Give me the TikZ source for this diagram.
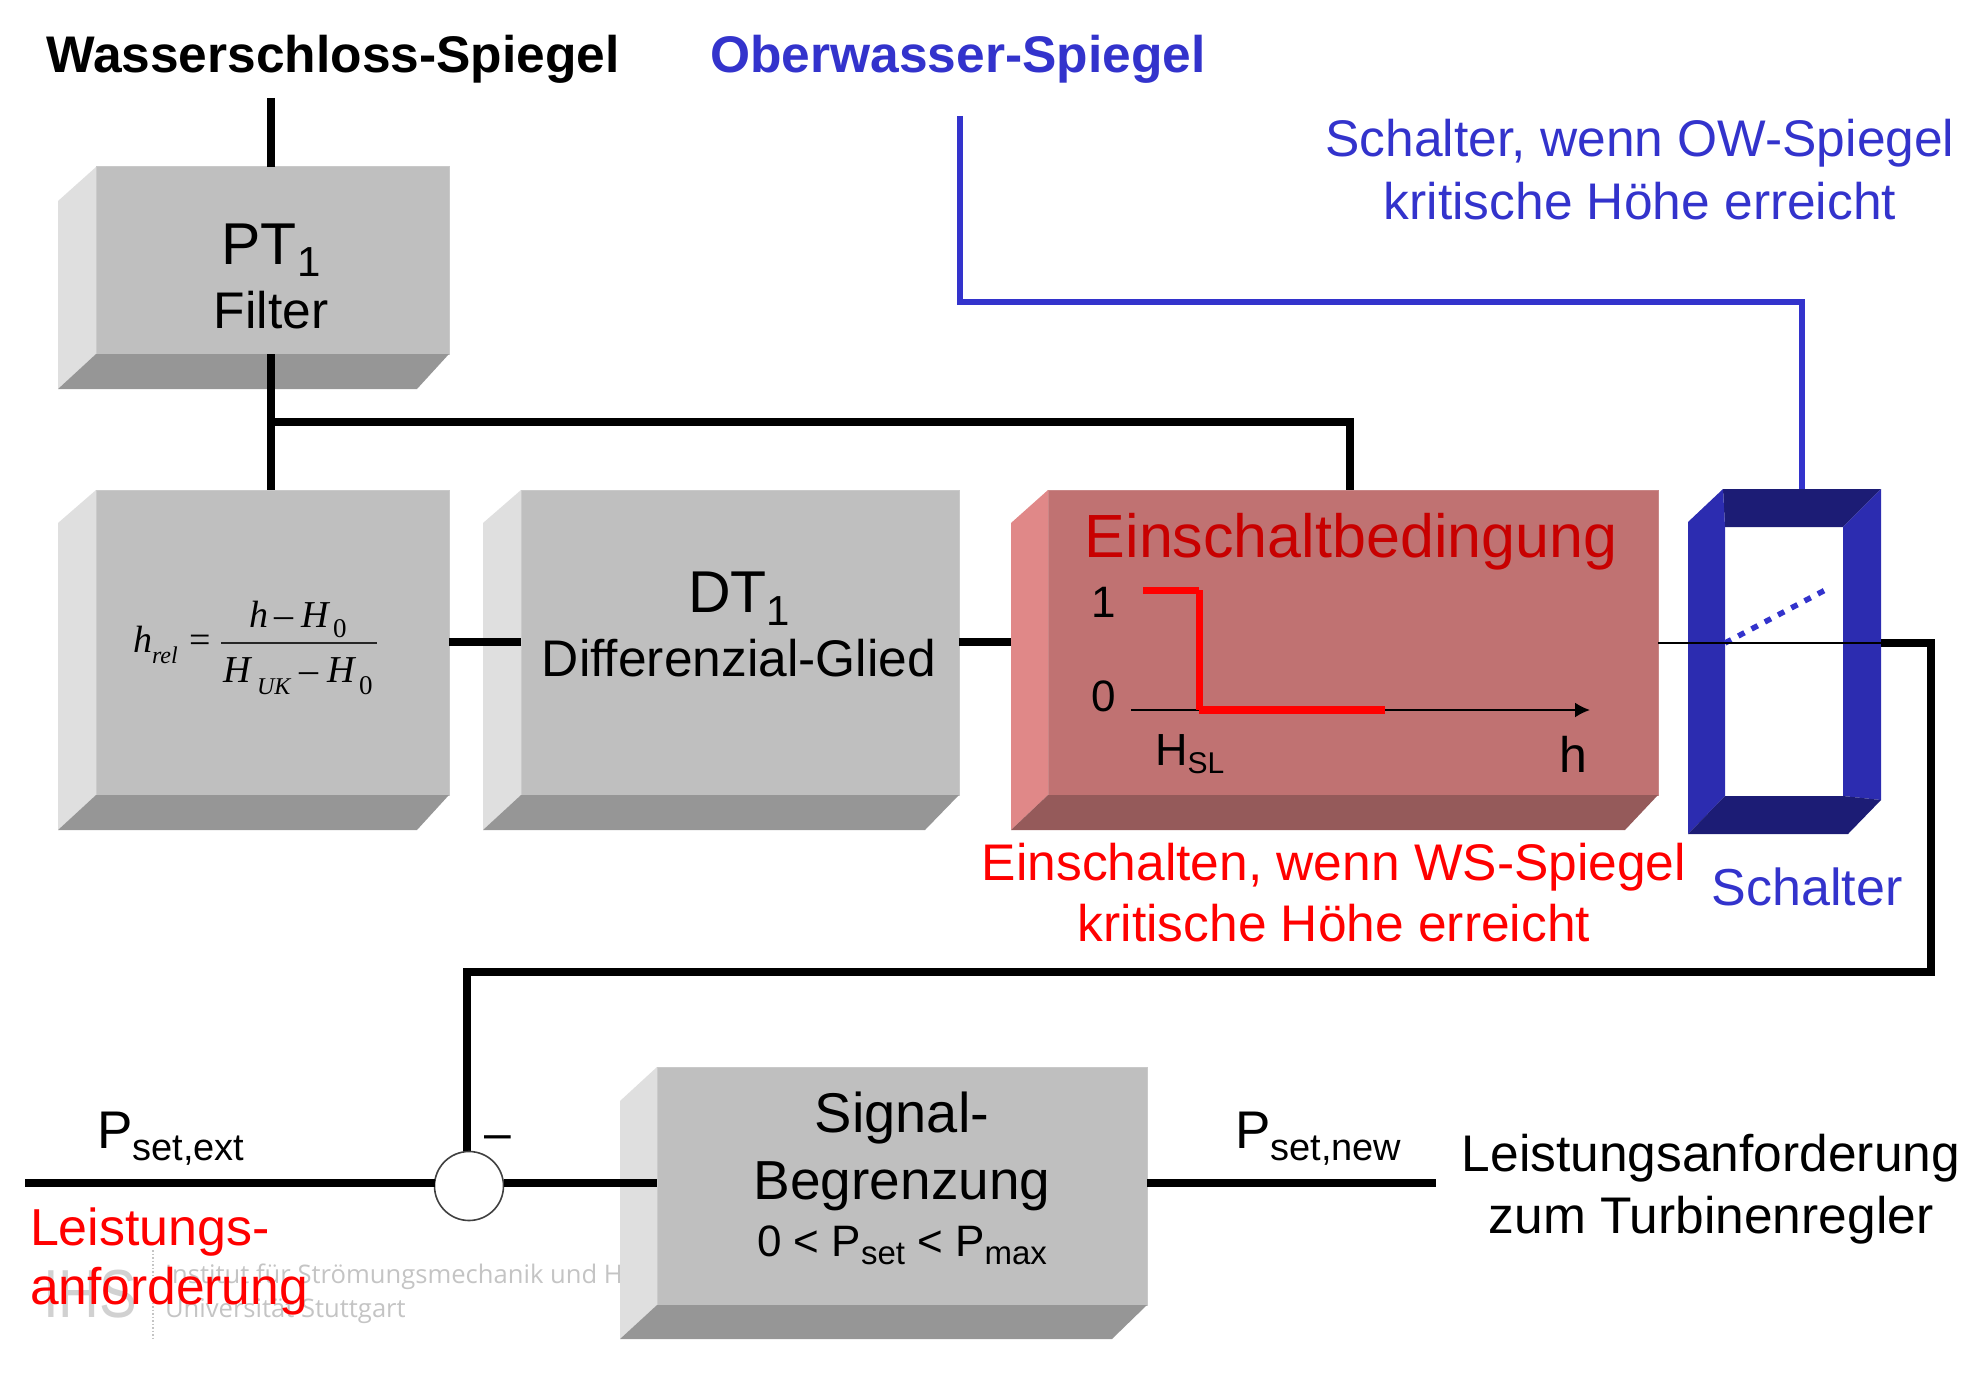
\documentclass[tikz,border=0pt]{standalone}
\usepackage{fontspec}
\setmainfont{Liberation Sans}
\newfontfamily\wmfont{Open Sans}
\newfontfamily\frmfont{Liberation Serif}
\usetikzlibrary{arrows.meta,calc}
\definecolor{boxfront}{HTML}{BFBFBF}
\definecolor{boxleft}{HTML}{DFDFDF}
\definecolor{boxbottom}{HTML}{969696}
\definecolor{einfront}{HTML}{C07272}
\definecolor{einleft}{HTML}{E08888}
\definecolor{einbottom}{HTML}{955A5A}
\definecolor{swlight}{HTML}{2C2CB0}
\definecolor{swdark}{HTML}{1C1C75}
\definecolor{owblue}{HTML}{3333CC}
\definecolor{darkred}{HTML}{C80000}
\definecolor{wmgrey}{HTML}{C4C4C4}
\newcommand{\fsz}[1]{\fontsize{#1}{#1}\selectfont}
\newcommand{\subs}[3]{\raisebox{-#3pt}{\fsz{#2}#1}}
\newcommand{\frontface}[6]{\node[facebox,fill=#6,draw=#6!85!white,minimum width=#3pt-#2pt,minimum height=#5pt-#4pt] (#1) at ({(#2+#3)/2},{(#4+#5)/2}) {};}
\newcommand{\sideface}[7]{\fill[#7] (#1,#4) -- (#2,#3) -- (#2,#5) -- (#1,#6) -- cycle;}
\tikzset{
  facebox/.style={rectangle,line width=1pt,inner sep=0pt,outer sep=0pt},
  txt/.style={inner sep=0pt,outer sep=0pt,anchor=base,align=center},
  txtl/.style={inner sep=0pt,outer sep=0pt,anchor=base west},
  wire/.style={draw=black,line width=8pt,line cap=butt,line join=miter},
  bluewire/.style={draw=owblue,line width=6.5pt,line join=miter},
  frm/.style={inner sep=0pt,outer sep=0pt,anchor=base west,font=\frmfont\fsz{38}\itshape},
  frmsub/.style={inner sep=0pt,outer sep=0pt,anchor=base west,font=\frmfont\fsz{24}\itshape},
  wm/.style={inner sep=0pt,outer sep=0pt,anchor=base west,text=wmgrey,font=\wmfont\fsz{25.6}},
}
\begin{document}
\begin{tikzpicture}[x=1pt,y=-1pt]
\useasboundingbox (0,0) rectangle (1970,1375);
% watermark
\node[wm] (wm1) at (165,1283) {Institut für Strömungsmechanik und Hy};
\node[wm] (wm2) at (165,1317) {Universität Stuttgart};
\node[txtl,text=black!18,font=\fsz{68}] (wm3) at (43,1317) {\scalebox{0.83}[1]{IHS}};
\draw[wmgrey,line width=1.5pt,dotted] (153,1250) -- (153,1338);
% PT1
\frontface{pt}{96}{449}{167}{354}{boxfront}
\sideface{58}{96}{167}{201}{354}{389}{boxleft}
\fill[boxbottom] (58,389) -- (96,354) -- (449,354) -- (417,389) -- cycle;
% hrel
\frontface{hrel}{96}{449}{490}{795}{boxfront}
\sideface{58}{96}{490}{523}{795}{830}{boxleft}
\fill[boxbottom] (58,830) -- (96,795) -- (449,795) -- (417,830) -- cycle;
% DT1
\frontface{dt}{521}{959}{490}{795}{boxfront}
\sideface{483}{521}{490}{523}{795}{830}{boxleft}
\fill[boxbottom] (483,830) -- (521,795) -- (959,795) -- (925,830) -- cycle;
% Signal
\frontface{sig}{657}{1147}{1067}{1305}{boxfront}
\sideface{620}{657}{1067}{1101}{1305}{1339}{boxleft}
\fill[boxbottom] (620,1339) -- (657,1305) -- (1147,1305) -- (1112,1339) -- cycle;
% Einschalt front
\frontface{ein}{1048}{1658}{490}{795}{einfront}
% Connectors
\coordinate (wstop) at (271,98);
\coordinate (branch) at (271,422);
\coordinate (einin) at (1350,490);
\coordinate (midline) at (0,642);
\draw[wire] (wstop) -- (pt.north -| wstop);
\draw[wire] (pt.south -| wstop) -- (hrel.north -| wstop);
\draw[wire] (branch) -| (einin);
\draw[wire] (hrel.east |- midline) -- (dt.west |- midline);
\draw[wire] (dt.east |- midline) -- (ein.west |- midline);
% Einschalt bevel on top of connector
\sideface{1011}{1048}{490}{523}{795}{830}{einleft}
\fill[einbottom] (1011,830) -- (1048,795) -- (1658,795) -- (1625,830) -- cycle;
% Switch frame
\fill[swdark] (1723,489) -- (1881,489) -- (1843,527) -- (1725,527) -- cycle;
\fill[swlight] (1688,522) -- (1723,489) -- (1725,527) -- (1725,796) -- (1688,834) -- cycle;
\fill[swlight] (1881,489) -- (1881,800) -- (1843,796) -- (1843,527) -- cycle;
\fill[swdark] (1725,796) -- (1843,796) -- (1881,800) -- (1848,834) -- (1688,834) -- cycle;
\coordinate (swin) at (1725,643);
\coordinate (swtip) at (1829,588);
\coordinate (swout) at (1881,643);
\coordinate (swtop) at (1802,489);
\draw[owblue,line width=5.5pt,dash pattern=on 7pt off 8pt] (swin) -- (swtip);
\draw[black,line width=1.6pt] (ein.east |- swout) -- (swout);
\coordinate (rr) at (1931,972);
\coordinate (ll) at (467,972);
\coordinate (sumtop) at (467,1153);
\draw[wire] (swout) -| (rr) -- (ll) -- (sumtop);
% Blue
\coordinate (owtop) at (960,116);
\coordinate (blc) at (1802,302);
\draw[bluewire] (owtop) |- (blc) -- (swtop);
% Sum junction
\coordinate (pext) at (25,1183);
\coordinate (pnew) at (1436,1183);
\node[circle,draw=black!75,line width=1.6pt,fill=white,minimum size=69pt,inner sep=0pt,outer sep=0pt] (sum) at (469,1186) {};
\draw[wire] (pext) -- (sum.west |- pext);
\draw[wire] (sum.east |- pext) -- (sig.west |- pext);
\draw[wire] (sig.east |- pext) -- (pnew);
% Graph
\coordinate (axs) at (1131,710);
\coordinate (axe) at (1590,710);
\coordinate (ra) at (1143,590);
\coordinate (rb) at (1199,590);
\coordinate (rc) at (1199,710);
\coordinate (rd) at (1385,710);
\draw[black,line width=2pt,-{Latex[length=15pt,width=15pt]}] (axs) -- (axe);
\draw[red,line width=7pt] (ra) -- (rb);
\draw[red,line width=7pt] (rb) -- (rc);
\draw[red,line width=8pt] (rc) -- (rd);
% Text
\node[txt,font=\bfseries\fsz{51.5}] (t1) at (333,73) {Wasserschloss-Spiegel};
\node[txt,font=\bfseries\fsz{51.5},text=owblue] (t2) at (958,73) {Oberwasser-Spiegel};
\node[txt,font=\fsz{51.5},text=owblue] (t3) at (1640,157) {Schalter, wenn OW-Spiegel};
\node[txt,font=\fsz{51.5},text=owblue] (t4) at (1640,219) {kritische Höhe erreicht};
\node[txt,font=\fsz{59}] (pt1) at (271,264) {PT\subs{1}{42}{13}};
\node[txt,font=\fsz{51.5}] (pt2) at (271,328) {Filter};
\node[txt,font=\fsz{59}] (dt1) at (739,612) {DT\subs{1}{42}{13}};
\node[txt,font=\fsz{51.5}] (dt2) at (739,676) {Differenzial-Glied};
\node[txt,font=\fsz{61},text=darkred] (e1) at (1351,557) {Einschaltbedingung};
\node[txt,font=\fsz{44}] (g1) at (1104,617) {1};
\node[txt,font=\fsz{44}] (g0) at (1104,711) {0};
\node[txtl,font=\fsz{45}] (ghsl) at (1155,765) {H\subs{SL}{30}{8}};
\node[txt,font=\fsz{50}] (gh) at (1573,772) {h};
\node[txt,font=\fsz{51.5},text=red] (e2) at (1334,880) {Einschalten, wenn WS-Spiegel};
\node[txt,font=\fsz{51.5},text=red] (e3) at (1334,941) {kritische Höhe erreicht};
\node[txt,font=\fsz{52},text=owblue] (s1) at (1807,905) {Schalter};
\node[txtl,font=\fsz{53}] (pe) at (97,1148) {P\subs{set,ext}{38}{12}};
\node[txt,font=\fsz{48}] (minus) at (498,1149) {–};
\node[txtl,font=\fsz{52},text=red] (l1) at (30,1245) {Leistungs-};
\node[txtl,font=\fsz{51.5},text=red] (l2) at (30,1304) {anforderung};
\node[txt,font=\fsz{56}] (sg1) at (902,1132) {Signal-};
\node[txt,font=\fsz{55}] (sg2) at (902,1199) {Begrenzung};
\node[txt,font=\fsz{44}] (sg3) at (902,1256) {0 < P\subs{set}{33}{8} < P\subs{max}{33}{8}};
\node[txtl,font=\fsz{53}] (pn) at (1235,1148) {P\subs{set,new}{38}{12}};
\node[txt,font=\fsz{51.5}] (la1) at (1711,1171) {Leistungsanforderung};
\node[txt,font=\fsz{51.5}] (la2) at (1711,1233) {zum Turbinenregler};
% Formula
\node[frm] (f1) at (133,652) {h};
\node[frmsub] (f2) at (152,663) {rel};
\node[frm,font=\frmfont\fsz{38}] (f3) at (189,652) {=};
\coordinate (fa) at (221,643);
\coordinate (fb) at (377,643);
\draw[black!85,line width=1.8pt] (fa) -- (fb);
\node[frm] (n1) at (249,627) {h};
\node[frm,font=\frmfont\fsz{38}] (n2) at (274,627) {–};
\node[frm] (n3) at (301,627) {H};
\node[frmsub,font=\frmfont\fsz{27}] (n4) at (333,637) {0};
\node[frm] (d1) at (223,682) {H};
\node[frmsub] (d2) at (257,694) {UK};
\node[frm,font=\frmfont\fsz{38}] (d3) at (299,682) {–};
\node[frm] (d4) at (327,682) {H};
\node[frmsub,font=\frmfont\fsz{27}] (d5) at (359,694) {0};
\end{tikzpicture}
\end{document}
